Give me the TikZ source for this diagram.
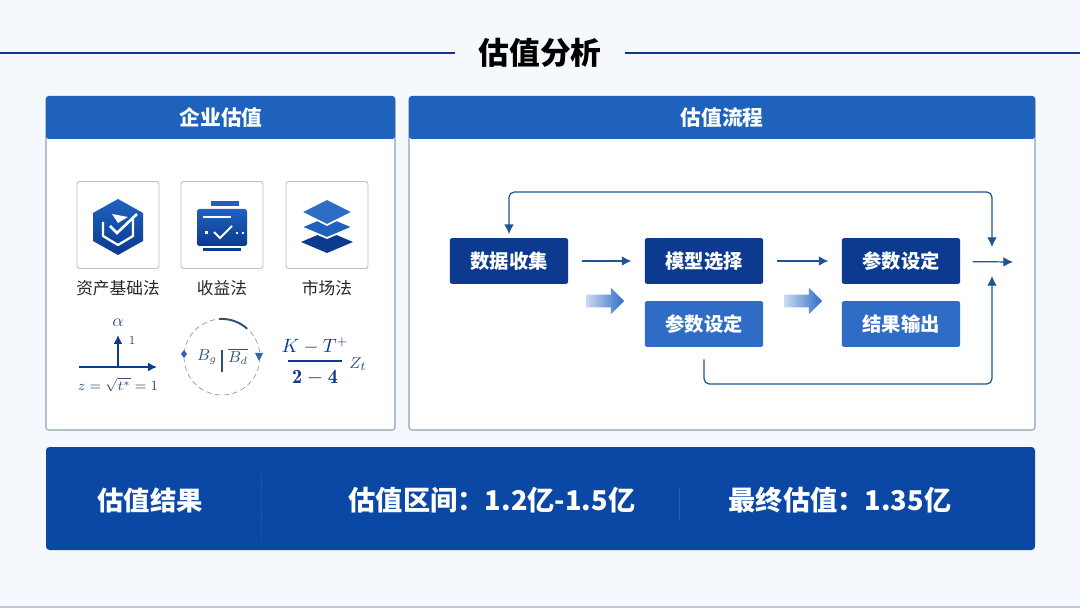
\documentclass[tikz,border=0pt]{standalone}
\usepackage{fontspec}
\usepackage{amsmath}
\newfontfamily\cjk{Noto Sans CJK SC}
\usetikzlibrary{arrows.meta,shapes.arrows}
\definecolor{pagebg}{HTML}{F5F9FD}
\definecolor{deepblue}{HTML}{0B3A8F}
\definecolor{bandblue}{HTML}{0B47A4}
\definecolor{midblue}{HTML}{1E62BE}
\definecolor{softblue}{HTML}{2F6CC6}
\definecolor{linkblue}{HTML}{1F5592}
\definecolor{rimgray}{HTML}{8FA1B3}
\definecolor{mathblue}{HTML}{2F5077}
\definecolor{edgegray}{HTML}{BFC8D8}
\tikzset{
    panelbox/.style={draw=rimgray, line width=0.6pt, fill=white, rounded corners=1.5pt},
    panelhead/.style={fill=midblue, rounded corners=1.5pt},
    headtext/.style={text=white, font=\cjk\bfseries\fontsize{11.8}{14}\selectfont},
    iconbox/.style={draw=black!25, line width=0.5pt, fill=white, rounded corners=1.5pt, minimum width=1.64cm, minimum height=1.74cm},
    iconlabel/.style={text=black!85, font=\cjk\fontsize{9.5}{11}\selectfont},
    stepbox/.style={minimum width=2.37cm, minimum height=0.92cm, rounded corners=1.5pt, text=white, inner sep=0pt, font=\cjk\bfseries\fontsize{11}{13}\selectfont},
    darkstep/.style={stepbox, fill=deepblue},
    lightstep/.style={stepbox, fill=softblue},
    flowline/.style={draw=linkblue, line width=0.7pt, -{Latex[length=5.5pt,width=5.5pt]}},
    fatarrow/.style={single arrow, inner sep=0.12cm, minimum height=0.76cm, single arrow head extend=0.14cm,
        single arrow head indent=0pt, left color=softblue!25, right color=softblue},
    bandtext/.style={text=white, font=\cjk\bfseries\fontsize{15}{18}\selectfont},
    bandfigure/.style={text=white, font=\cjk\bfseries\fontsize{15.5}{18}\selectfont},
    mathtext/.style={text=mathblue, font=\fontsize{8.3}{10}\selectfont},
}
\begin{document}
\begin{tikzpicture}[x=0.02cm, y=-0.02cm, >={Latex}]
    \useasboundingbox (0,0) rectangle (1080,608);
    \fill[pagebg] (0,0) rectangle (1080,608);
    \fill[edgegray] (0,606) rectangle (1080,608);

    % title
    \node[font=\cjk\bfseries\fontsize{17.5}{20}\selectfont] (title) at (540,53) {估值分析};
    \coordinate (ruleleft) at (0,53);
    \coordinate (ruleright) at (1080,53);
    \draw[deepblue, line width=1.2pt] (ruleleft) -- (455,53);
    \draw[deepblue, line width=1.2pt] (625,53) -- (ruleright);

    % panels
    \draw[panelbox] (46,97) rectangle (395,430);
    \fill[panelhead] (46,96) rectangle (395,139);
    \node[headtext] (lefthead) at (221,118) {企业估值};
    \draw[panelbox] (409,97) rectangle (1035,430);
    \fill[panelhead] (409,96) rectangle (1035,139);
    \node[headtext] (righthead) at (722,118) {估值流程};

    % icons
    \node[iconbox] (assetbox) at (118,225) {};
    \node[iconbox] (incomebox) at (222,225) {};
    \node[iconbox] (marketbox) at (327,225) {};
    \node[iconlabel] (assetlabel) at (118,288) {资产基础法};
    \node[iconlabel] (incomelabel) at (222,288) {收益法};
    \node[iconlabel] (marketlabel) at (327,288) {市场法};

    \shade[top color=midblue, bottom color=deepblue]
        (118,199) -- (143,213) -- (143,241) -- (118,255) -- (93,241) -- (93,213) -- cycle;
    \draw[white, line width=1.3pt, line join=round] (103,222) -- (103,236) -- (118,245) -- (133,236) -- (133,217);
    \draw[white, line width=1.5pt] (110,226) -- (117,233) -- (137,214);
    \fill[white] (112,214) -- (128,217) -- (118,223) -- cycle;

    \fill[midblue] (211,201) rectangle (239,206);
    \shade[top color=midblue, bottom color=deepblue, rounded corners=1pt] (197,209) rectangle (247,246);
    \fill[deepblue] (203,248) rectangle (241,251);
    \draw[white, line width=0.9pt] (203,217) -- (231,217);
    \draw[white, line width=1.2pt] (214,232) -- (220,238) -- (232,226);
    \fill[white] (205,231) rectangle (208,234);
    \fill[white] (236,232) rectangle (238,234);
    \fill[white] (242,232) rectangle (244,234);

    \fill[deepblue] (327,231) -- (353,242) -- (327,253) -- (301,242) -- cycle;
    \draw[white, line width=1pt, fill=midblue, line join=round] (327,216) -- (353,227) -- (327,238) -- (301,227) -- cycle;
    \draw[white, line width=1pt, fill=softblue, line join=round] (327,199) -- (353,212) -- (327,225) -- (301,212) -- cycle;

    % formulas
    \coordinate (axisleft) at (79,367);
    \coordinate (axisright) at (157,367);
    \coordinate (axisfoot) at (118,367);
    \coordinate (axistop) at (118,335);
    \draw[deepblue, line width=0.9pt, -{Latex[length=5pt,width=5pt]}] (axisleft) -- (axisright);
    \draw[deepblue, line width=0.9pt, -{Latex[length=5pt,width=5pt]}] (axisfoot) -- (axistop);
    \node[mathtext, font=\fontsize{10}{12}\selectfont] (alpha) at (118,323) {$\alpha$};
    \node[mathtext, font=\fontsize{7}{8}\selectfont] (one) at (132,340) {1};
    \node[mathtext] (axislaw) at (118,385) {$z=\sqrt{t^{*}}=1$};

    \draw[black!40, densely dashed, line width=0.4pt] (222,357) circle (38);
    \draw[mathblue, line width=1.1pt] (219,319) arc (-94:-48:38);
    \fill[softblue!70!mathblue] (184,350) -- (187,354) -- (184,358) -- (181,354) -- cycle;
    \fill[softblue!70!mathblue] (255,353) -- (263,353) -- (259,361) -- cycle;
    \node[mathtext, font=\fontsize{9}{11}\selectfont] (bandg) at (207,357) {$B_g$};
    \node[mathtext, font=\fontsize{9}{11}\selectfont] (bandd) at (238,356) {$\overline{B_d}$};
    \draw[mathblue, line width=0.6pt] (222,350) -- (222,372);

    \node[mathtext, font=\fontsize{10.5}{13}\selectfont, text=deepblue] (fractop) at (315,346) {$K-T^{+}$};
    \node[mathtext, font=\fontsize{11.5}{14}\selectfont, text=deepblue] (fracbot) at (315,378) {$\mathbf{2}-\mathbf{4}$};
    \draw[deepblue, line width=0.8pt] (288,361) -- (342,361);
    \node[mathtext, font=\fontsize{9.5}{11}\selectfont] (zt) at (358,364) {$Z_t$};

    % flow
    \node[darkstep] (collect) at (509,261) {数据收集};
    \node[darkstep] (model) at (704,261) {模型选择};
    \node[darkstep] (param) at (901,261) {参数设定};
    \node[lightstep] (paramlow) at (704,324) {参数设定};
    \node[lightstep] (output) at (901,324) {结果输出};
    \coordinate (out) at (1013,262);
    \coordinate (jointop) at (992,247);
    \coordinate (joinlow) at (992,276);
    \coordinate (looptop) at (509,192);
    \coordinate (loopbot) at (992,384);

    \draw[flowline, shorten <=0.26cm, shorten >=0.26cm] (collect) -- (model);
    \draw[flowline, shorten <=0.26cm, shorten >=0.26cm] (model) -- (param);
    \draw[flowline, shorten <=0.24cm] (param) -- (out);
    \draw[flowline, {Latex[length=5.5pt,width=5.5pt]}-{Latex[length=5.5pt,width=5.5pt]}, rounded corners=3pt, shorten >=2pt] (jointop) |- (looptop) -- (collect.north);
    \draw[flowline, rounded corners=3pt, shorten <=0.24cm] (paramlow.south) |- (loopbot) -- (joinlow);
    \node[fatarrow] (pushone) at (602,301) {};
    \node[fatarrow] (pushtwo) at (800,301) {};

    % result band
    \fill[bandblue, rounded corners=2pt] (46,447) rectangle (1035,550);
    \draw[midblue, densely dotted, line width=0.4pt] (261,470) -- (261,540);
    \draw[midblue, line width=0.4pt] (679,488) -- (679,520);
    \node[bandtext] (result) at (150,500) {估值结果};
    \node[bandfigure] (range) at (492,500) {估值区间：1.2亿-1.5亿};
    \node[bandfigure] (final) at (840,500) {最终估值：1.35亿};
\end{tikzpicture}
\end{document}
